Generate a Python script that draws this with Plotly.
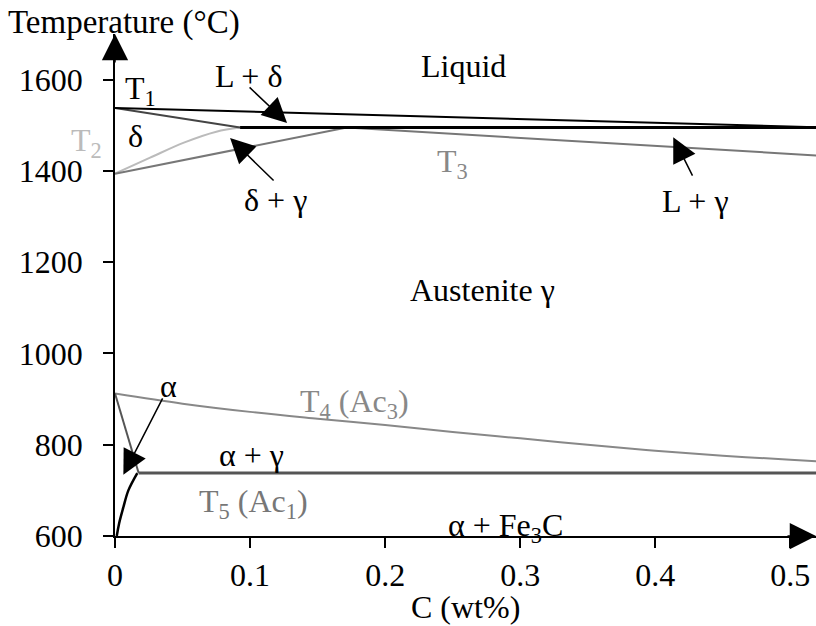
import plotly.graph_objects as go

# ---------------- data (C in wt%, T in °C) ----------------
liq_c = [0.0, 0.53]
liq_t = [1538, 1495]                      # T1 liquidus
peri_c = [0.0926, 0.53]
peri_t = [1495, 1495]                     # peritectic line
dsol_c = [0.0, 0.0926]
dsol_t = [1538, 1495]                     # delta solidus
t2_c = [0.0, 0.026, 0.051, 0.075, 0.0926]
t2_t = [1394, 1429, 1462, 1486, 1495]     # T2 delta / delta+gamma
gam_c = [0.0, 0.1716]
gam_t = [1394, 1495]                      # delta+gamma / gamma
t3_c = [0.1716, 0.53]
t3_t = [1495, 1432]                       # T3 gamma solidus
t4_c = [0.0, 0.05, 0.1, 0.15, 0.2, 0.25, 0.3, 0.35, 0.4, 0.45, 0.5, 0.53]
t4_t = [912, 890, 872, 857, 843, 828, 814, 800, 787, 776, 767, 762]  # T4 Ac3
alb_c = [0.0, 0.0175]
alb_t = [912, 738]                        # alpha / alpha+gamma
t5_c = [0.0175, 0.53]
t5_t = [738, 738]                         # T5 Ac1
solv_c = [0.0013, 0.003, 0.0062, 0.0099, 0.0165]
solv_t = [600, 627, 663, 700, 738]        # alpha solvus

xticks = [0, 0.1, 0.2, 0.3, 0.4, 0.5]
xtick_text = ["0", "0.1", "0.2", "0.3", "0.4", "0.5"]
yticks = [600, 800, 1000, 1200, 1400, 1600]

X_MAX = 0.519
Y_MAX = 1700

FONT = "Liberation Serif, Times New Roman, serif"
FS = 32

W, H = 816, 626
ML, MR, MT, MB = 115, 0, 34, 90

def px(xp, yp):
    """pixel position -> paper coords"""
    pw = W - ML - MR
    ph = H - MT - MB
    return (xp - ML) / pw, (H - MB - yp) / ph

fig = go.Figure()

def line(x, y, color, width, shape="linear"):
    fig.add_trace(go.Scatter(x=x, y=y, mode="lines",
                             line=dict(color=color, width=width, shape=shape,
                                       smoothing=1.0 if shape == "spline" else None),
                             hoverinfo="skip", showlegend=False))

line(t4_c, t4_t, "#888888", 2, "spline")
line(t5_c, t5_t, "#555555", 3)
line(alb_c, alb_t, "#555555", 2)
line(solv_c, solv_t, "#000000", 2.5, "spline")
line(t2_c, t2_t, "#bbbbbb", 2, "spline")
line(gam_c, gam_t, "#777777", 2)
line(t3_c, t3_t, "#777777", 2)
line(dsol_c, dsol_t, "#444444", 2)
line(liq_c, liq_t, "#000000", 2)
line(peri_c, peri_t, "#000000", 3)

ann = []

def label(text, xp, yp, color="black", xanchor="center", size=FS):
    x, y = px(xp, yp)
    ann.append(dict(text=text, x=x, y=y, xref="paper", yref="paper",
                    xanchor=xanchor, yanchor="middle", showarrow=False,
                    font=dict(family=FONT, size=size, color=color)))

label("Temperature (°C)", 6, 22, xanchor="left", size=33)
label("C (wt%)", 465, 607)
label("Liquid", 463, 66)
label("L + δ", 248, 76)
label("T<sub>1</sub>", 140, 90)
label("δ", 135, 136)
label("T<sub>2</sub>", 86, 142, color="#bbbbbb")
label("T<sub>3</sub>", 452, 163, color="#888888")
label("δ + γ", 275, 200)
label("L + γ", 695, 201)
label("Austenite γ", 482, 290)
label("α", 168, 386)
label("T<sub>4</sub> (Ac<sub>3</sub>)", 354, 403, color="#888888")
label("α + γ", 251, 455)
label("T<sub>5</sub> (Ac<sub>1</sub>)", 253, 503, color="#777777")
label("α + Fe<sub>3</sub>C", 505, 527)

def arrow(x, y, ax, ay, size=3.3):
    ann.append(dict(text="", x=x, y=y, xref="x", yref="y", ax=ax, ay=ay,
                    showarrow=True, arrowhead=2, arrowsize=size,
                    arrowwidth=1.5, arrowcolor="black"))

# pointer arrows (tip in data coords, tail offset in px)
arrow(0.1274, 1505, -39, -37)
arrow(0.0852, 1472, 45, 44)
arrow(0.4133, 1474, 20, 40)
arrow(0.0062, 734, 40, -78)
# axis arrows
arrow(0, Y_MAX, 0, 30, size=3.5)
arrow(X_MAX, 600, -30, 0, size=3.5)

fig.update_layout(
    width=W, height=H,
    margin=dict(l=ML, r=MR, t=MT, b=MB),
    paper_bgcolor="white", plot_bgcolor="white",
    font=dict(family=FONT, size=FS, color="black"),
    annotations=ann,
    showlegend=False,
)
fig.update_xaxes(range=[0, X_MAX], tickvals=xticks, ticktext=xtick_text,
                 showline=True, linecolor="black", linewidth=1.5,
                 ticks="outside", ticklen=10, tickwidth=1.5, tickcolor="black",
                 showgrid=False, zeroline=False, ticklabelstandoff=0,
                 tickfont=dict(family=FONT, size=FS, color="black"))
fig.update_yaxes(range=[600, Y_MAX], tickvals=yticks,
                 showline=True, linecolor="black", linewidth=1.5,
                 ticks="outside", ticklen=10, tickwidth=1.5, tickcolor="black",
                 showgrid=False, zeroline=False, ticklabelstandoff=14,
                 tickfont=dict(family=FONT, size=FS, color="black"))

fig.write_html("out.html")
